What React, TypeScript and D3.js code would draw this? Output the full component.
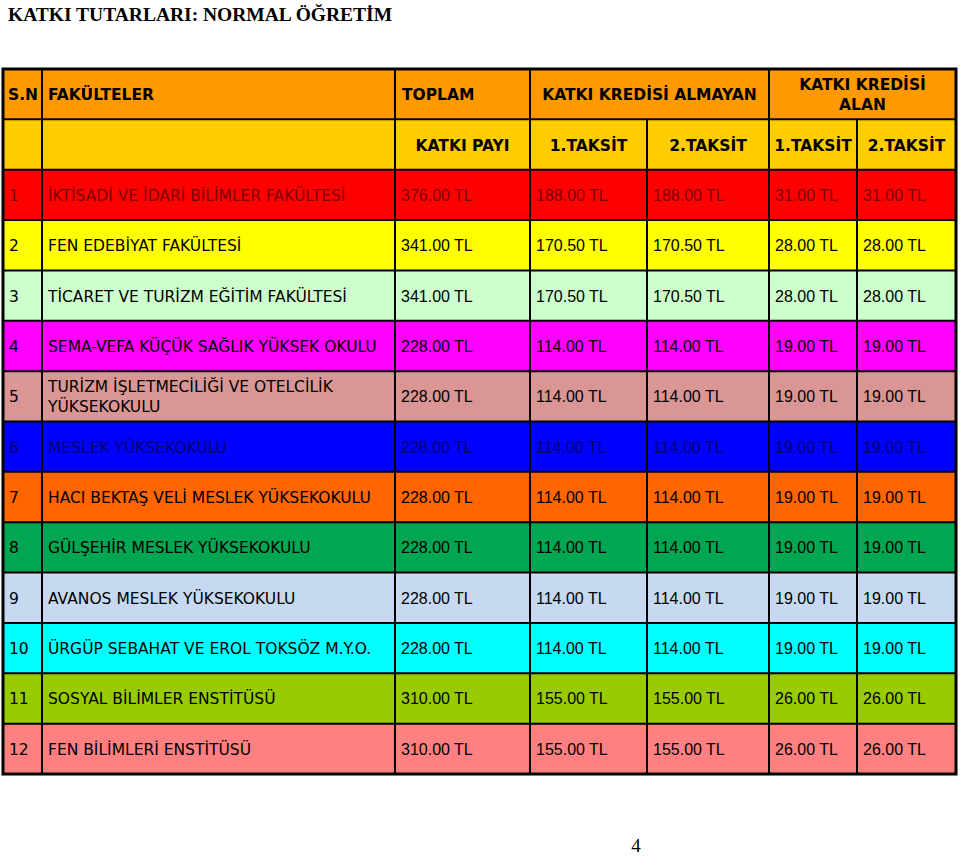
import React from "react";
import * as d3 from "d3";

const title = "KATKI TUTARLARI: NORMAL ÖĞRETİM";
const pageNo = "4";

const head1 = ["S.N", "FAKÜLTELER", "TOPLAM", "KATKI KREDİSİ ALMAYAN", "KATKI KREDİSİ|ALAN"];
const head2 = ["", "", "KATKI PAYI", "1.TAKSİT", "2.TAKSİT", "1.TAKSİT", "2.TAKSİT"];

const faculties = [
  "İKTİSADİ VE İDARİ BİLİMLER FAKÜLTESİ",
  "FEN EDEBİYAT FAKÜLTESİ",
  "TİCARET VE TURİZM EĞİTİM FAKÜLTESİ",
  "SEMA-VEFA KÜÇÜK SAĞLIK YÜKSEK OKULU",
  "TURİZM İŞLETMECİLİĞİ VE OTELCİLİK|YÜKSEKOKULU",
  "MESLEK YÜKSEKOKULU",
  "HACI BEKTAŞ VELİ MESLEK YÜKSEKOKULU",
  "GÜLŞEHİR MESLEK YÜKSEKOKULU",
  "AVANOS MESLEK YÜKSEKOKULU",
  "ÜRGÜP SEBAHAT VE EROL TOKSÖZ M.Y.O.",
  "SOSYAL BİLİMLER ENSTİTÜSÜ",
  "FEN BİLİMLERİ ENSTİTÜSÜ",
];
const toplam = [376, 341, 341, 228, 228, 228, 228, 228, 228, 228, 310, 310];
const almayan1 = [188, 170.5, 170.5, 114, 114, 114, 114, 114, 114, 114, 155, 155];
const almayan2 = [188, 170.5, 170.5, 114, 114, 114, 114, 114, 114, 114, 155, 155];
const alan1 = [31, 28, 28, 19, 19, 19, 19, 19, 19, 19, 26, 26];
const alan2 = [31, 28, 28, 19, 19, 19, 19, 19, 19, 19, 26, 26];

const rowColors = [
  "#ff0000", "#ffff00", "#ccffcc", "#ff00ff", "#d99694", "#0000ff",
  "#ff6600", "#00a651", "#c6d9f0", "#00ffff", "#99cc00", "#ff8080",
];
const textColors = [
  "#7a0000", "#000", "#000", "#000", "#000", "#00006e",
  "#000", "#000", "#000", "#000", "#000", "#000",
];

// layout
const colEdges = [3, 42, 395, 530, 647, 769, 857, 956];
const tableTop = 69;
const tableBottom = 774;
const nameFont = "'DejaVu Sans', sans-serif";
const numFont = "'Liberation Sans', Arial, sans-serif";

const fmt = (v: number) => d3.format(".2f")(v) + " TL";

export default function App() {
  const nRows = faculties.length + 2;
  const y = d3.scaleLinear().domain([0, nRows]).range([tableTop, tableBottom]);
  const rh = y(1) - y(0);
  const cx = (i: number) => colEdges[i];

  const cells: React.ReactNode[] = [];

  // header backgrounds
  cells.push(
    <rect key="h1" x={cx(0)} y={y(0)} width={cx(7) - cx(0)} height={rh} fill="#ff9900" />,
    <rect key="h2" x={cx(0)} y={y(1)} width={cx(7) - cx(0)} height={rh} fill="#ffcc00" />
  );
  faculties.forEach((_, i) => {
    cells.push(
      <rect key={"bg" + i} x={cx(0)} y={y(i + 2)} width={cx(7) - cx(0)} height={rh} fill={rowColors[i]} />
    );
  });

  const lines: React.ReactNode[] = [];
  for (let r = 1; r < nRows; r++) {
    lines.push(<line key={"hl" + r} x1={cx(0)} x2={cx(7)} y1={y(r)} y2={y(r)} stroke="#000" strokeWidth={2} />);
  }
  for (let c = 1; c < 7; c++) {
    const top = c === 4 || c === 6 ? y(1) : y(0);
    lines.push(<line key={"vl" + c} x1={cx(c)} x2={cx(c)} y1={top} y2={y(nRows)} stroke="#000" strokeWidth={2} />);
  }
  lines.push(
    <rect key="outer" x={cx(0)} y={y(0)} width={cx(7) - cx(0)} height={y(nRows) - y(0)} fill="none" stroke="#000" strokeWidth={3} />
  );

  const texts: React.ReactNode[] = [];
  const hy = (y(0) + y(1)) / 2 + 6;
  const hStyle = { fontFamily: nameFont, fontWeight: "bold" as const, fontSize: 15.5, fill: "#000" };
  texts.push(
    <text key="t0" x={cx(0) + 5} y={hy} {...hStyle}>{head1[0]}</text>,
    <text key="t1" x={cx(1) + 6} y={hy} {...hStyle}>{head1[1]}</text>,
    <text key="t2" x={cx(2) + 7} y={hy} {...hStyle}>{head1[2]}</text>,
    <text key="t3" x={(cx(3) + cx(5)) / 2} y={hy} textAnchor="middle" {...hStyle}>{head1[3]}</text>
  );
  head1[4].split("|").forEach((s, k) => {
    texts.push(
      <text key={"t4" + k} x={(cx(5) + cx(7)) / 2} y={hy - 10 + k * 20} textAnchor="middle" {...hStyle}>{s}</text>
    );
  });
  const h2y = (y(1) + y(2)) / 2 + 6;
  head2.forEach((s, c) => {
    if (!s) return;
    texts.push(
      <text key={"h2" + c} x={(cx(c) + cx(c + 1)) / 2} y={h2y} textAnchor="middle" {...hStyle}>{s}</text>
    );
  });

  faculties.forEach((name, i) => {
    const cy = (y(i + 2) + y(i + 3)) / 2 + 6;
    const col = textColors[i];
    texts.push(
      <text key={"sn" + i} x={cx(0) + 6} y={cy} fontFamily={nameFont} fontSize={15.5} fill={col}>{i + 1}</text>
    );
    const parts = name.split("|");
    parts.forEach((p, k) => {
      texts.push(
        <text key={"nm" + i + k} x={cx(1) + 6} y={cy + (k - (parts.length - 1) / 2) * 20} fontFamily={nameFont} fontSize={15.5} fill={col}>{p}</text>
      );
    });
    [toplam, almayan1, almayan2, alan1, alan2].forEach((arr, c) => {
      texts.push(
        <text key={"v" + i + c} x={cx(c + 2) + 6} y={cy} fontFamily={numFont} fontSize={16} fill={col}>{fmt(arr[i])}</text>
      );
    });
  });

  return (
    <svg width={960} height={857} style={{ position: "absolute", left: 0, top: 0, background: "#fff" }}>
      <text x={8} y={21} fontFamily="'Liberation Serif', 'Times New Roman', serif" fontWeight="bold" fontSize={19.5} fill="#000">{title}</text>
      {cells}
      {lines}
      {texts}
      <text x={636} y={852} textAnchor="middle" fontFamily="'Liberation Serif', serif" fontSize={19} fill="#000">{pageNo}</text>
    </svg>
  );
}
